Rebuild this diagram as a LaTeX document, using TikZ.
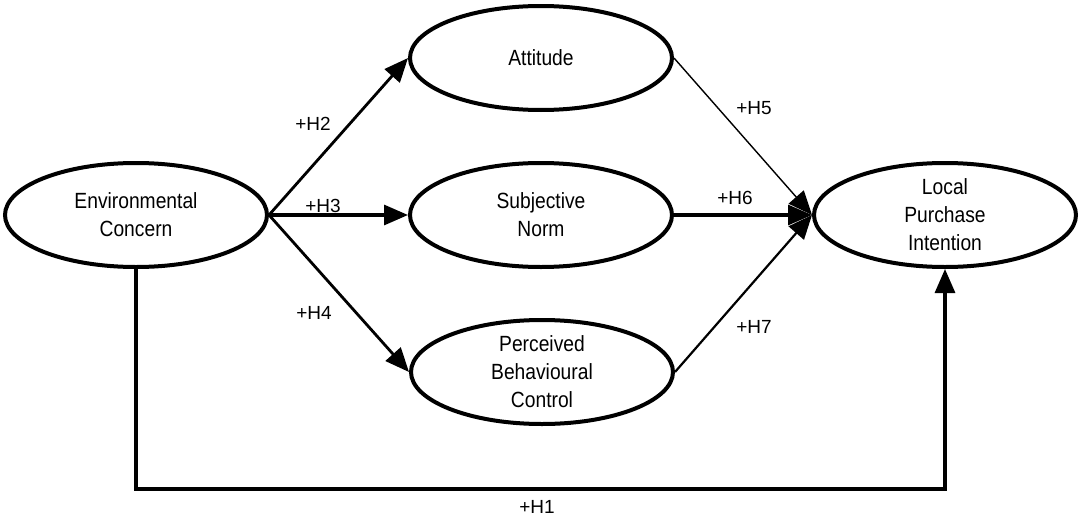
\documentclass[tikz,border=0pt]{standalone}
\usepackage{fontspec}
\setmainfont{Liberation Sans}
\newfontfamily\narrowfont{Liberation Sans}[FakeStretch=0.875]
\usetikzlibrary{shapes.geometric,arrows.meta}
\begin{document}
\begin{tikzpicture}[x=1pt,y=-1pt,
  construct/.style={ellipse,draw,line width=4pt,minimum width=262pt,minimum height=104pt,inner sep=0pt,align=center,font=\narrowfont\fontsize{22}{28}\selectfont},
  link/.style={-{Triangle[length=24pt,width=20pt]},line width=2.8pt},
  hlabel/.style={font=\fontsize{19}{24}\selectfont}]
\useasboundingbox (0,0) rectangle (1082,522);
\node[construct] (ec) at (136,215) {Environmental\\Concern};
\node[construct] (att) at (541,58) {Attitude};
\node[construct] (sn) at (541,215) {Subjective\\Norm};
\node[construct] (pbc) at (542,372) {Perceived\\Behavioural\\Control};
\node[construct] (lpi) at (945,215) {Local\\Purchase\\Intention};
\draw[link] (ec.east) -- (att.west);
\draw[link,line width=3.2pt] (ec.east) -- (sn.west);
\draw[link] (ec.east) -- (pbc.west);
\draw[link,line width=1.4pt] (att.east) -- (lpi.west);
\draw[link,line width=3.2pt] (sn.east) -- (lpi.west);
\draw[link,line width=2.2pt] (pbc.east) -- (lpi.west);
\draw[link,line width=3.2pt] (ec.south) -- ++(0,220) -| (lpi.south);
\node[hlabel] (h2) at (313,124) {+H2};
\node[hlabel] (h3) at (323,206) {+H3};
\node[hlabel] (h4) at (314,313) {+H4};
\node[hlabel] (h5) at (754,108) {+H5};
\node[hlabel] (h6) at (735,198) {+H6};
\node[hlabel] (h7) at (754,327) {+H7};
\node[hlabel] (h1) at (537,507) {+H1};
\end{tikzpicture}
\end{document}
